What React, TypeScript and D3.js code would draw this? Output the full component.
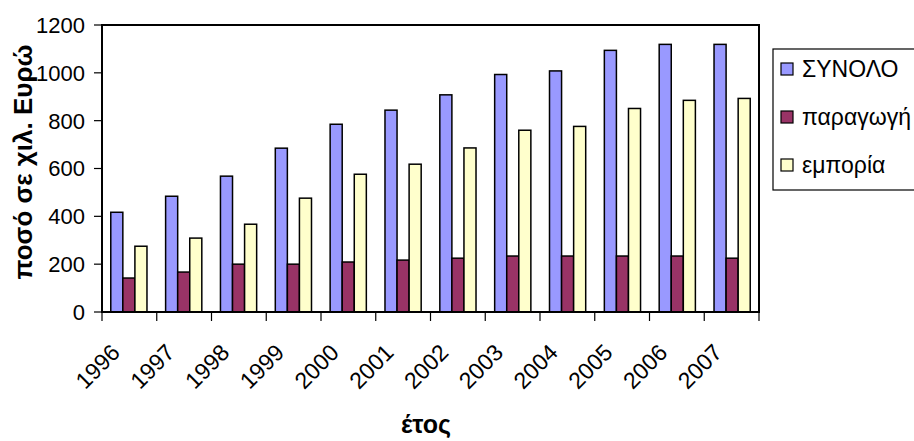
import React from "react";
import * as d3 from "d3";

const years = ["1996","1997","1998","1999","2000","2001","2002","2003","2004","2005","2006","2007"];
const synolo = [417, 484, 568, 685, 785, 844, 908, 993, 1008, 1094, 1119, 1119];
const paragogi = [142, 167, 200, 200, 209, 217, 225, 234, 234, 234, 234, 225];
const emporia = [275, 309, 367, 476, 576, 618, 686, 760, 776, 851, 885, 893];
const seriesNames = ["ΣΥΝΟΛΟ", "παραγωγή", "εμπορία"];
const seriesColors = ["#9999FF", "#993366", "#FFFFCC"];
const yTicks = [0, 200, 400, 600, 800, 1000, 1200];

export default function App() {
  const W = 914, H = 441;
  const left = 102, right = 759, top = 25, bottom = 312;
  const x = d3.scaleBand().domain(years).range([left, right]).paddingInner(0.34).paddingOuter(0.16);
  const step = (right - left) / years.length;
  const y = d3.scaleLinear().domain([0, 1200]).range([bottom, top]);
  const data = [synolo, paragogi, emporia];
  const inner = d3.scaleBand().domain(["0","1","2"]).range([0, x.bandwidth()]).padding(0);
  const font = "'Liberation Sans', Arial, sans-serif";
  return (
    <svg width={W} height={H} style={{ position: "absolute", left: 0, top: 0 }} fontFamily={font}>
      <rect x={0} y={0} width={W} height={H} fill="#fff" />
      {data.map((s, si) =>
        s.map((v, i) => (
          <rect key={si + "-" + i}
            x={(x(years[i]) as number) + (inner(String(si)) as number)}
            y={y(v)} width={inner.bandwidth()} height={y(0) - y(v)}
            fill={seriesColors[si]} stroke="#000" strokeWidth={1.5} />
        ))
      )}
      <rect x={left} y={top} width={right - left} height={bottom - top} fill="none" stroke="#000" strokeWidth={2} />
      {yTicks.map(t => (
        <g key={t}>
          <line x1={left - 8} x2={left} y1={y(t)} y2={y(t)} stroke="#000" strokeWidth={1.2} />
          <text x={85} y={y(t)} dy="0.36em" textAnchor="end" fontSize={22}>{t}</text>
        </g>
      ))}
      {d3.range(years.length + 1).map(i => (
        <line key={"xt" + i} x1={left + i * step} x2={left + i * step} y1={bottom} y2={bottom + 9} stroke="#000" strokeWidth={1.2} />
      ))}
      {years.map((yr, i) => {
        const cx = left + (i + 0.5) * step;
        return (
          <text key={yr} transform={`translate(${cx - 8},354) rotate(-45)`} textAnchor="end" fontSize={23}>{yr}</text>
        );
      })}
      <text x={426} y={433} textAnchor="middle" fontSize={25} fontWeight="bold">έτος</text>
      <text transform={`translate(32,${162}) rotate(-90)`} textAnchor="middle" fontSize={26} fontWeight="bold">ποσό σε χιλ. Ευρώ</text>
      <rect x={773} y={49} width={145} height={141} fill="#fff" stroke="#000" strokeWidth={1.2} />
      {seriesNames.map((n, i) => (
        <g key={n}>
          <rect x={781} y={63 + i * 48} width={12} height={12} fill={seriesColors[i]} stroke="#000" strokeWidth={1.2} />
          <text x={802} y={69 + i * 48} dy="0.36em" fontSize={23}>{n}</text>
        </g>
      ))}
    </svg>
  );
}
